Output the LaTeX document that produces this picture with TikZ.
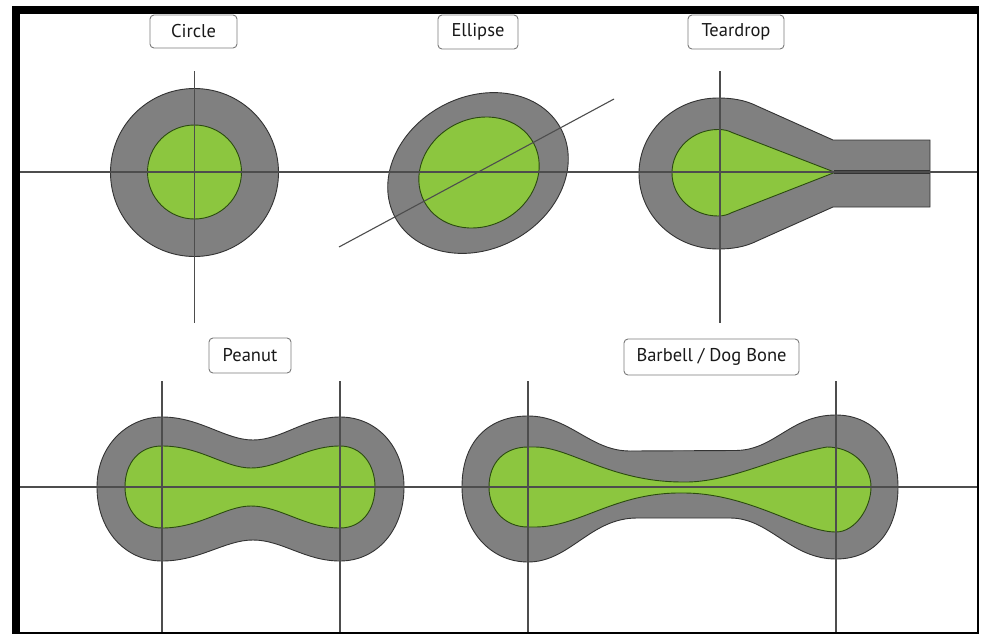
\documentclass[tikz,border=0pt]{standalone}
\usepackage{fontspec}
\setmainfont{PT Sans}
\definecolor{padgray}{HTML}{808080}
\definecolor{padedge}{HTML}{333333}
\definecolor{cugreen}{HTML}{8CC63F}
\definecolor{cuedge}{HTML}{2B4A10}
\definecolor{axisc}{HTML}{4D4D4D}
\definecolor{boxedge}{HTML}{7A7A7A}
\tikzset{
  pad/.style={fill=padgray, draw=padedge, line width=0.9pt},
  copper/.style={fill=cugreen, draw=cuedge, line width=0.9pt},
  axis/.style={draw=axisc, line width=1.1pt},
  lbl/.style={draw=boxedge, fill=white, rounded corners=4pt, line width=0.9pt, inner sep=0pt, font=\fontsize{18.5}{21}\selectfont, text=black!90},
}
\begin{document}
\begin{tikzpicture}[x=1pt,y=-1pt]
\useasboundingbox (0,0) rectangle (982,634);
% frame
\fill[black] (12,6) rectangle (20,634);
\fill[black] (12,6) rectangle (979,14);
\fill[black] (977,6) rectangle (979,634);
\fill[black] (12,632) rectangle (979,634);

% circle
\draw[pad] (194.5,172.5) circle[radius=84];
\draw[copper] (194.5,172) circle[radius=47];

% ellipse
\draw[pad] (478,173) ellipse[x radius=94, y radius=76, rotate=28.3];
\draw[copper] (479,172.5) ellipse[x radius=62, y radius=53.5, rotate=28.3];

% teardrop
\draw[pad] (639,173.5) .. controls (639,131.8) and (674.4,98) .. (718,98)
  .. controls (732,98) and (745,100) .. (757,106) -- (833,140) -- (930,140)
  -- (930,207) -- (833,207) -- (757,241)
  .. controls (745,247) and (732,249) .. (718,249)
  .. controls (674.4,249) and (639,215.2) .. (639,173.5) -- cycle;
\fill[white] (834,170.8) rectangle (930.5,173.4);
\draw[padedge, line width=0.8pt] (834,170.8) -- (930,170.8) (834,173.4) -- (930,173.4);
\draw[copper] (672,173) .. controls (672,149) and (692.6,129.5) .. (718,129.5)
  .. controls (724,129.5) and (728,130.5) .. (732,132.5) -- (835,172.3) -- (732,212.5)
  .. controls (728,214.5) and (724,216) .. (718,216)
  .. controls (692.6,216) and (672,197) .. (672,173) -- cycle;

% peanut
\draw[pad] (97,487) .. controls (97,445) and (128,417) .. (162,417)
  .. controls (200,417) and (225,440) .. (253,440)
  .. controls (282,440) and (305,417) .. (340,417)
  .. controls (377,417) and (404,447) .. (404,487)
  .. controls (404,530) and (377,561) .. (340,561)
  .. controls (305,561) and (282,540) .. (253,540)
  .. controls (225,540) and (200,561) .. (162,561)
  .. controls (125,561) and (97,530) .. (97,487) -- cycle;
\draw[copper] (125,487) .. controls (125,462) and (140,446) .. (162,446)
  .. controls (200,446) and (225,468) .. (251,468)
  .. controls (280,468) and (305,446) .. (340,446)
  .. controls (362,446) and (375,465) .. (375,487)
  .. controls (375,510) and (362,528) .. (340,528)
  .. controls (305,528) and (280,506) .. (251,506)
  .. controls (225,506) and (200,528) .. (162,528)
  .. controls (140,528) and (125,510) .. (125,487) -- cycle;

% barbell
\draw[pad] (462,487) .. controls (462,440) and (490,416) .. (528,416)
  .. controls (570,416) and (590,451) .. (630,451)
  -- (735,450.5)
  .. controls (775,450.5) and (790,415) .. (836,415)
  .. controls (870,415) and (898,440) .. (898,487)
  .. controls (898,530) and (875,559) .. (836,559)
  .. controls (790,559) and (770,518) .. (730,518)
  -- (637,518)
  .. controls (590,518) and (570,562) .. (528,562)
  .. controls (490,562) and (462,530) .. (462,487) -- cycle;
\draw[copper] (489,487) .. controls (489,462) and (505,447) .. (528,447)
  -- (535,447) .. controls (570,447) and (610,482) .. (683,482)
  .. controls (730,483) and (780,455) .. (827,447)
  .. controls (852,447) and (871,465) .. (871,487)
  .. controls (871,508) and (855,532) .. (836,532)
  .. controls (800,532) and (750,493) .. (683,493)
  .. controls (615,492) and (580,527) .. (535,527) -- (528,527)
  .. controls (505,527) and (489,510) .. (489,487) -- cycle;

% axes
\coordinate (h1a) at (20,172); \coordinate (h1b) at (977,172);
\coordinate (h2a) at (20,487); \coordinate (h2b) at (977,487);
\draw[axis] (h1a) -- (h1b);
\draw[axis] (h2a) -- (h2b);
\coordinate (cva) at (194.5,71); \coordinate (cvb) at (194.5,323);
\draw[axis] (cva) -- (cvb);
\coordinate (tva) at (720,71); \coordinate (tvb) at (720,323);
\draw[axis] (tva) -- (tvb);
\coordinate (eda) at (339,247); \coordinate (edb) at (614,99);
\draw[axis] (eda) -- (edb);
\coordinate (p1a) at (162,381); \coordinate (p1b) at (162,632);
\coordinate (p2a) at (340,381); \coordinate (p2b) at (340,632);
\draw[axis] (p1a) -- (p1b);
\draw[axis] (p2a) -- (p2b);
\coordinate (b1a) at (528,381); \coordinate (b1b) at (528,632);
\coordinate (b2a) at (836,381); \coordinate (b2b) at (836,632);
\draw[axis] (b1a) -- (b1b);
\draw[axis] (b2a) -- (b2b);

% labels
\node[lbl, minimum width=87pt, minimum height=33pt] (circlelbl) at (193.5,31.5) {Circle};
\node[lbl, minimum width=80pt, minimum height=34pt] (ellipselbl) at (478,32) {Ellipse};
\node[lbl, minimum width=96pt, minimum height=34pt] (teardroplbl) at (736,32) {Teardrop};
\node[lbl, minimum width=82pt, minimum height=35pt] (peanutlbl) at (250,355.5) {Peanut};
\node[lbl, minimum width=175pt, minimum height=36pt] (barbelllbl) at (711.5,357) {Barbell / Dog Bone};
\end{tikzpicture}
\end{document}
